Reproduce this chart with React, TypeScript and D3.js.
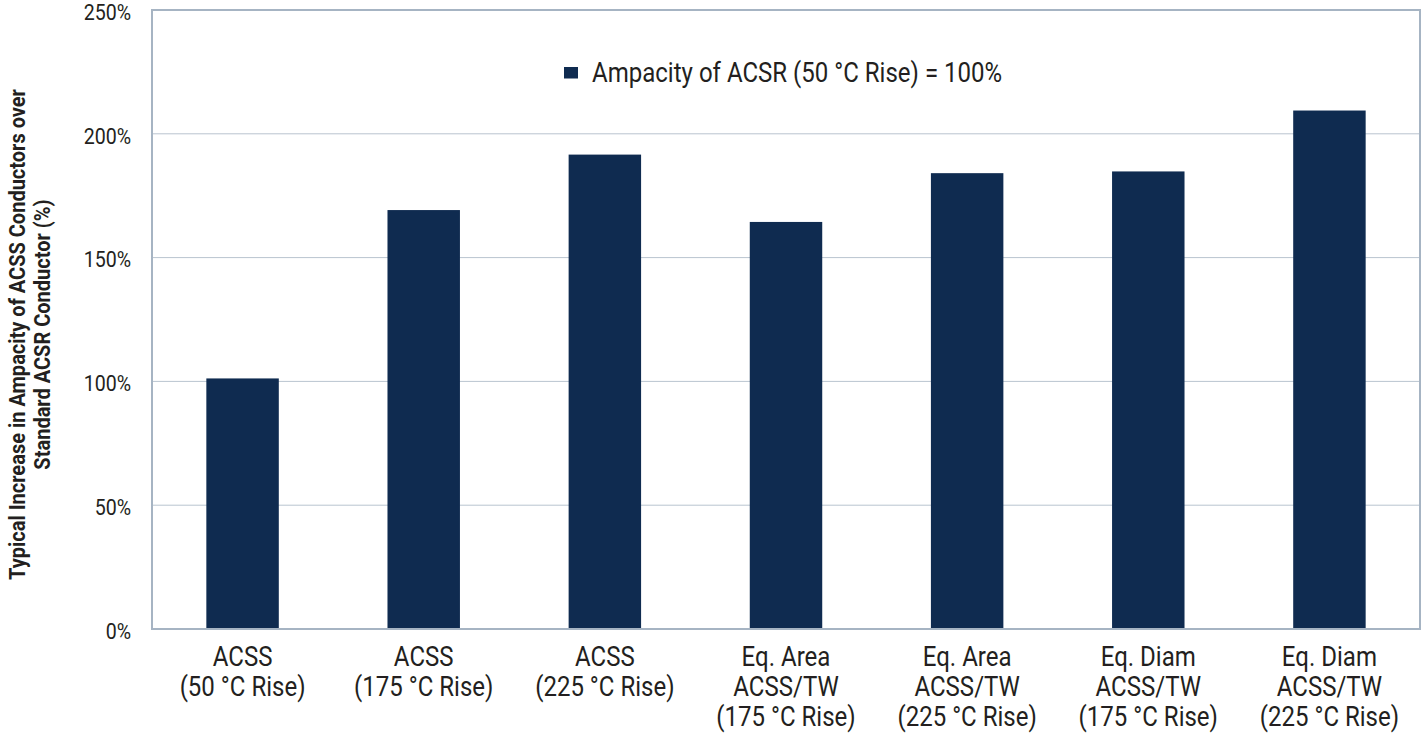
import React from "react";
import * as d3 from "d3";

const categories: string[][] = [
  ["ACSS", "(50 °C Rise)"],
  ["ACSS", "(175 °C Rise)"],
  ["ACSS", "(225 °C Rise)"],
  ["Eq. Area", "ACSS/TW", "(175 °C Rise)"],
  ["Eq. Area", "ACSS/TW", "(225 °C Rise)"],
  ["Eq. Diam", "ACSS/TW", "(175 °C Rise)"],
  ["Eq. Diam", "ACSS/TW", "(225 °C Rise)"],
];
const values: number[] = [101.2, 169.2, 191.6, 164.4, 184.1, 184.8, 209.4];
const yTicks: number[] = [0, 50, 100, 150, 200, 250];
const legendLabel = "Ampacity of ACSR (50 °C Rise) = 100%";
const yTitle = [
  "Typical Increase in Ampacity of ACSS Conductors over",
  "Standard ACSR Conductor (%)",
];

const W = 1426;
const H = 734;
const M = { left: 152, right: 6, top: 10, bottom: 105 };
const FONT = "Roboto, 'Liberation Sans', sans-serif";
const SX = 0.89;
const BAR = "#0f2b50";
const FRAME = "#a6b4c3";
const GRID = "#b9c4cf";
const TEXT = "#231f20";

export default function App() {
  const keys = categories.map((_, i) => String(i));
  const x = d3
    .scaleBand<string>()
    .domain(keys)
    .range([M.left, W - M.right])
    .paddingInner(0.6)
    .paddingOuter(0.3);
  const y = d3.scaleLinear().domain([0, 250]).range([H - M.bottom, M.top]);

  return (
    <svg
      width={W}
      height={H}
      style={{ position: "absolute", left: 0, top: 0, background: "#fff" }}
      fontFamily={FONT}
    >
      {yTicks.map((t) => (
        <g key={t}>
          {t !== 0 && t !== 250 && (
            <line x1={M.left} x2={W - M.right} y1={y(t)} y2={y(t)} stroke={GRID} strokeWidth={1} />
          )}
          <text
            transform={`translate(${M.left - 21},${y(t) + 2}) scale(${SX},1)`}
            dy="0.35em"
            textAnchor="end"
            fontSize={22}
            fill={TEXT}
          >
            {t}%
          </text>
        </g>
      ))}
      {values.map((v, i) => (
        <rect
          key={i}
          x={x(String(i))}
          y={y(v)}
          width={x.bandwidth()}
          height={y(0) - y(v)}
          fill={BAR}
        />
      ))}
      <rect
        x={M.left}
        y={M.top}
        width={W - M.right - M.left}
        height={y(0) - M.top}
        fill="none"
        stroke={FRAME}
        strokeWidth={2}
      />
      {categories.map((lines, i) => {
        const cx = (x(String(i)) as number) + x.bandwidth() / 2;
        return (
          <text
            key={i}
            transform={`translate(${cx},${y(0) + 37}) scale(${SX},1)`}
            textAnchor="middle"
            fontSize={27}
            fill={TEXT}
          >
            {lines.map((l, j) => (
              <tspan key={j} x={0} dy={j === 0 ? 0 : 30}>
                {l}
              </tspan>
            ))}
          </text>
        );
      })}
      <g transform="translate(564,67)">
        <rect x={0} y={0} width={14} height={11.5} fill={BAR} />
        <text
          transform={`translate(28,6) scale(${SX},1)`}
          dy="0.35em"
          fontSize={27}
          fill={TEXT}
        >
          {legendLabel}
        </text>
      </g>
      <g transform={`translate(25, ${(M.top + y(0)) / 2 + 15}) rotate(-90) scale(${SX},1)`}>
        {yTitle.map((l, j) => (
          <text
            key={j}
            x={0}
            y={j * 25}
            textAnchor="middle"
            fontSize={22.5}
            fontWeight="bold"
            fill={TEXT}
          >
            {l}
          </text>
        ))}
      </g>
    </svg>
  );
}
